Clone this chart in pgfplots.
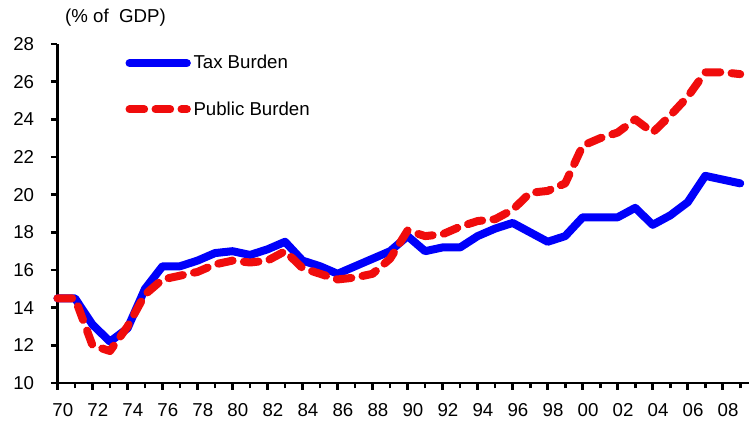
\documentclass[border=0pt]{standalone}
\usepackage{fontspec}
\setmainfont{Liberation Sans}
\usepackage{pgfplots}
\pgfplotsset{compat=1.18}
\definecolor{taxblue}{RGB}{0,0,250}
\definecolor{pubred}{RGB}{240,12,12}
\begin{document}
\begin{tikzpicture}
\useasboundingbox (-43.1pt,-33.75pt) rectangle (518.6pt,287.25pt);
\begin{axis}[at={(0,0)}, anchor=south west, scale only axis,
 width=518.6pt, height=254.25pt,
 xmin=1970, xmax=2009.5, ymin=10, ymax=28,
 axis x line=bottom, axis y line=left,
 axis line style={line width=2pt, -},
 ytick={10,12,...,28},
 xtick={1970,1972,...,2008},
 xticklabels={70,72,74,76,78,80,82,84,86,88,90,92,94,96,98,00,02,04,06,08},
 minor xtick={1971,1973,...,2009},
 tick align=outside, major tick length=5pt, minor tick length=4pt,
 every tick/.style={line width=2pt, black},
 minor tick style={line width=2pt, black},
 ticklabel style={font=\fontsize{14}{16}\selectfont},
 xticklabel style={xshift=4pt, yshift=-7pt},
 yticklabel style={xshift=-9pt},
 /pgf/number format/assume math mode=true,
 clip=false,
 legend style={draw=none, fill=none, at={(axis description cs:0.098,0.975)}, anchor=north west,
   font=\fontsize{14}{16}\selectfont, row sep=19pt, inner sep=0pt},
 legend image code/.code={\draw[#1] (3pt,0pt) -- (46pt,0pt);},
 legend cell align=left,
]
\addplot[taxblue, line width=6pt, line join=round, line cap=round] table {
x y
1970 14.5
1971 14.5
1972 13.1
1973 12.2
1974 12.9
1975 15.0
1976 16.2
1977 16.2
1978 16.5
1979 16.9
1980 17.0
1981 16.8
1982 17.1
1983 17.5
1984 16.5
1985 16.2
1986 15.8
1987 16.2
1988 16.6
1989 17.0
1990 17.8
1991 17.0
1992 17.2
1993 17.2
1994 17.8
1995 18.2
1996 18.5
1997 18.0
1998 17.5
1999 17.8
2000 18.8
2001 18.8
2002 18.8
2003 19.3
2004 18.4
2005 18.9
2006 19.6
2007 21.0
2008 20.8
2009 20.6
};
\addlegendentry{Tax Burden}
\addplot[pubred, line width=6pt, line join=round, line cap=round, dash pattern=on 11pt off 8.5pt] table {
x y
1970 14.5
1971 14.5
1972 12.0
1973 11.7
1974 13.0
1975 14.7
1976 15.5
1977 15.7
1978 15.9
1979 16.3
1980 16.5
1981 16.4
1982 16.5
1983 17.0
1984 16.1
1985 15.8
1986 15.5
1987 15.6
1988 15.8
1989 16.6
1990 18.1
1991 17.8
1992 17.9
1993 18.3
1994 18.6
1995 18.7
1996 19.2
1997 20.1
1998 20.2
1999 20.6
2000 22.6
2001 23.0
2002 23.3
2003 24.0
2004 23.3
2005 24.2
2006 25.2
2007 26.5
2008 26.5
2009 26.4
};
\addlegendentry{Public Burden}
\node[anchor=west, font=\fontsize{14}{16}\selectfont, inner sep=0pt] at ([xshift=5.6pt,yshift=19.5pt]rel axis cs:0,1) {(\% of\ \ GDP)};
\end{axis}
\end{tikzpicture}
\end{document}
